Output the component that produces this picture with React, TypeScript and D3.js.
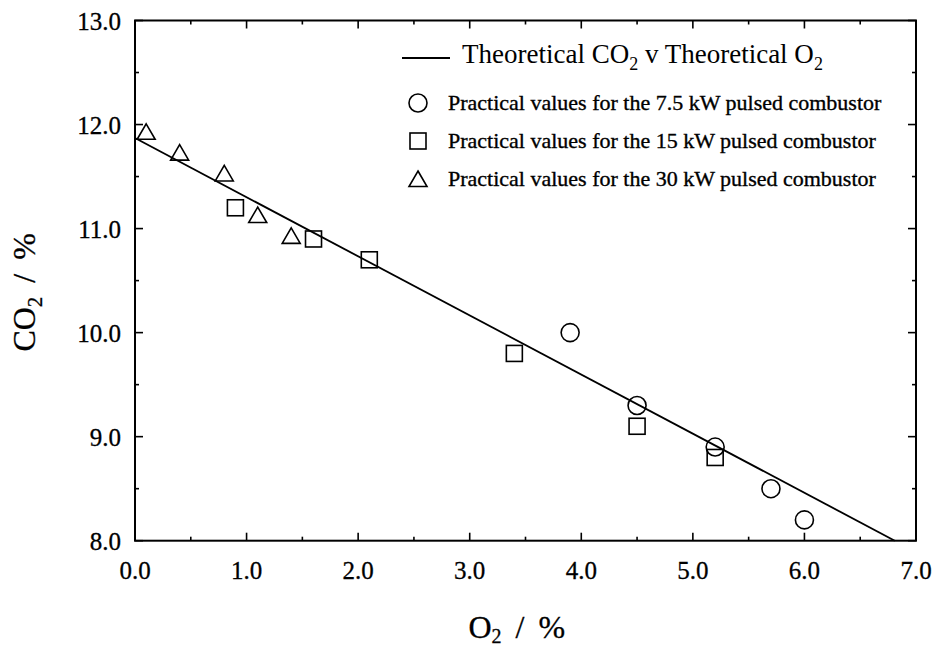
import React from 'react';
import * as d3 from 'd3';

const xTicks = [0, 1, 2, 3, 4, 5, 6, 7];
const yTicks = [8, 9, 10, 11, 12, 13];
const theoryO2 = [0, 6.81];
const theoryCO2 = [11.87, 8.0];
const kw75O2 = [3.9, 4.5, 5.2, 5.7, 6.0];
const kw75CO2 = [10.0, 9.3, 8.9, 8.5, 8.2];
const kw15O2 = [0.9, 1.6, 2.1, 3.4, 4.5, 5.2];
const kw15CO2 = [11.2, 10.9, 10.7, 9.8, 9.1, 8.8];
const kw30O2 = [0.1, 0.4, 0.8, 1.1, 1.4];
const kw30CO2 = [11.93, 11.73, 11.53, 11.13, 10.93];
const legendLabels = [
  'Practical values for the 7.5 kW pulsed combustor',
  'Practical values for the 15 kW pulsed combustor',
  'Practical values for the 30 kW pulsed combustor',
];

const W = 935, H = 648;
const L = 135, R = 916, T = 20.5, B = 540.7;
const FONT = '"Liberation Serif", "Times New Roman", serif';

function Marker({ kind, x, y }: { kind: string; x: number; y: number }) {
  const common = { fill: 'none', stroke: '#000', strokeWidth: 1.6 };
  if (kind === 'circle') return <circle cx={x} cy={y} r={9} {...common} />;
  if (kind === 'square') return <rect x={x - 8} y={y - 8} width={16} height={16} {...common} />;
  return <path d={`M${x},${y - 8}L${x + 9},${y + 7.5}L${x - 9},${y + 7.5}Z`} {...common} />;
}

export default function App() {
  const x = d3.scaleLinear().domain([0, 7]).range([L, R]);
  const y = d3.scaleLinear().domain([8, 13]).range([B, T]);
  const line = d3.line<number>().x((d) => x(d)).y((_, i) => y(theoryCO2[i]));
  const xMinor = d3.range(0.5, 7, 1);
  const yMinor = d3.range(8.5, 13, 1);
  const series = [
    { kind: 'circle', xs: kw75O2, ys: kw75CO2 },
    { kind: 'square', xs: kw15O2, ys: kw15CO2 },
    { kind: 'triangle', xs: kw30O2, ys: kw30CO2 },
  ];
  const majorLen = 8, minorLen = 4;
  const tick = { stroke: '#000', strokeWidth: 1.6 };
  const bold = { stroke: '#000', strokeWidth: 0.3 };
  return (
    <svg width={W} height={H} style={{ position: 'absolute', left: 0, top: 0, background: '#fff' }} fontFamily={FONT}>
      <rect x={0} y={0} width={W} height={H} fill="#fff" />
      {/* frame */}
      <rect x={L} y={T} width={R - L} height={B - T} fill="none" stroke="#000" strokeWidth={2} />
      {/* x ticks */}
      {xTicks.map((t) => (
        <g key={'xt' + t}>
          <line x1={x(t)} x2={x(t)} y1={B} y2={B - majorLen} {...tick} />
          <line x1={x(t)} x2={x(t)} y1={T} y2={T + majorLen} {...tick} />
          <text x={x(t)} y={579} textAnchor="middle" fontSize={25} {...bold}>{t.toFixed(1)}</text>
        </g>
      ))}
      {xMinor.map((t) => (
        <g key={'xm' + t}>
          <line x1={x(t)} x2={x(t)} y1={B} y2={B - minorLen} {...tick} />
          <line x1={x(t)} x2={x(t)} y1={T} y2={T + minorLen} {...tick} />
        </g>
      ))}
      {yTicks.map((t) => (
        <g key={'yt' + t}>
          <line x1={L} x2={L + majorLen} y1={y(t)} y2={y(t)} {...tick} />
          <line x1={R} x2={R - majorLen} y1={y(t)} y2={y(t)} {...tick} />
          <text x={121} y={y(t) + 9} textAnchor="end" fontSize={25} {...bold}>{t.toFixed(1)}</text>
        </g>
      ))}
      {yMinor.map((t) => (
        <g key={'ym' + t}>
          <line x1={L} x2={L + minorLen} y1={y(t)} y2={y(t)} {...tick} />
          <line x1={R} x2={R - minorLen} y1={y(t)} y2={y(t)} {...tick} />
        </g>
      ))}
      {/* theoretical line */}
      <path d={line(theoryO2) || ''} fill="none" stroke="#000" strokeWidth={1.8} />
      {/* markers */}
      {series.map((s) =>
        s.xs.map((v, i) => <Marker key={s.kind + i} kind={s.kind} x={x(v)} y={y(s.ys[i])} />)
      )}
      {/* legend */}
      <line x1={402} x2={450} y1={58} y2={58} stroke="#000" strokeWidth={1.8} />
      <text x={462} y={63} fontSize={27}>
        Theoretical CO<tspan fontSize={18} dy={7}>2</tspan>
        <tspan dy={-7}> v Theoretical O</tspan>
        <tspan fontSize={18} dy={7}>2</tspan>
      </text>
      {series.map((s, i) => (
        <g key={'lg' + i}>
          <Marker kind={s.kind} x={418} y={103 + i * 38} />
          <text x={448} y={110 + i * 38} fontSize={22} stroke="#000" strokeWidth={0.35}>{legendLabels[i]}</text>
        </g>
      ))}
      {/* axis titles */}
      <text x={(L + R) / 2 - 57} y={638} fontSize={32} {...bold}>
        O<tspan fontSize={20} dy={5}>2</tspan>
        <tspan dy={-5} dx={14}>/</tspan>
        <tspan dx={14}>%</tspan>
      </text>
      <text transform={`translate(35, ${(T + B) / 2 + 71}) rotate(-90)`} fontSize={32} {...bold}>
        CO<tspan fontSize={21} dy={7}>2</tspan>
        <tspan dy={-7} dx={14}>/</tspan>
        <tspan dx={14}>%</tspan>
      </text>
    </svg>
  );
}
